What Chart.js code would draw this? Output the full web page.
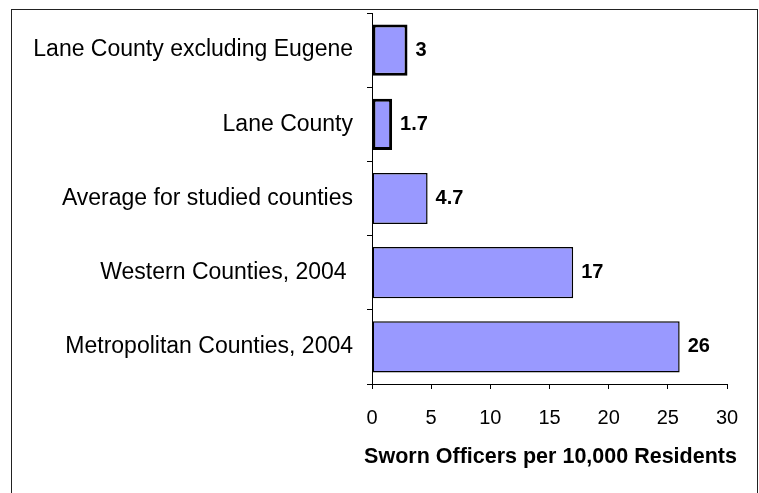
<!DOCTYPE html>
<html>
<head>
<meta charset="utf-8">
<script src="https://cdn.jsdelivr.net/npm/chart.js@4/dist/chart.umd.min.js"></script>
<style>
  body { margin: 0; background: #fff; }
  canvas { display: block; }
</style>
</head>
<body>
<canvas id="myChart" width="759" height="493"></canvas>
<script>
// categories, top to bottom
var categories = [
  "Lane County excluding Eugene",
  "Lane County",
  "Average for studied counties",
  "Western Counties, 2004 ",
  "Metropolitan Counties, 2004"
];
// sworn officers per 10,000 residents
var officers = [3, 1.7, 4.7, 17, 26];
// labels printed next to the bars
var officerLabels = ["3", "1.7", "4.7", "17", "26"];
// x axis
var xMin = 0;
var xMax = 30;
var xStep = 5;
var xTitle = "Sworn Officers per 10,000 Residents";

// frame around the whole chart
var framePlugin = {
  id: "frame",
  beforeDraw: function(chart) {
    var ctx = chart.ctx;
    ctx.save();
    ctx.fillStyle = "#fff";
    ctx.fillRect(0, 0, chart.width, chart.height);
    ctx.strokeStyle = "#222";
    ctx.lineWidth = 1;
    ctx.strokeRect(11.5, 9.5, 746, 500);
    ctx.restore();
  }
};

// value labels at the end of each bar + x axis title
// (the title is wider than the plot, chart.js would squeeze it)
var labelPlugin = {
  id: "valueLabels",
  afterDatasetsDraw: function(chart) {
    var ctx = chart.ctx;
    var meta = chart.getDatasetMeta(0);
    ctx.save();
    ctx.font = "bold 20px Arial, 'Liberation Sans', sans-serif";
    ctx.fillStyle = "#000";
    ctx.textAlign = "left";
    ctx.textBaseline = "middle";
    for (var i = 0; i < meta.data.length; i++) {
      var bar = meta.data[i];
      ctx.fillText(officerLabels[i], bar.x + 8, bar.y);
    }
    var area = chart.chartArea;
    ctx.font = "bold 21.5px Arial, 'Liberation Sans', sans-serif";
    ctx.textAlign = "center";
    ctx.fillText(xTitle, (area.left + area.right) / 2 + 1, chart.scales.x.bottom - 36);
    ctx.restore();
  }
};

var ctx = document.getElementById("myChart");
var myChart = new Chart(ctx, {
  type: "bar",
  data: {
    labels: categories,
    datasets: [{
      data: officers,
      backgroundColor: "#9999ff",
      borderColor: "#000",
      borderWidth: [3, 3, 1.5, 1.5, 1.5],
      borderSkipped: false,
      barPercentage: 0.69,
      categoryPercentage: 1
    }]
  },
  options: {
    indexAxis: "y",
    responsive: false,
    animation: false,
    layout: {
      padding: { left: 12, top: 13, right: 32, bottom: 0 }
    },
    plugins: {
      legend: { display: false },
      tooltip: { enabled: false }
    },
    scales: {
      x: {
        min: xMin,
        max: xMax,
        ticks: {
          stepSize: xStep,
          color: "#000",
          padding: 17,
          font: { family: "Arial, 'Liberation Sans', sans-serif", size: 20 }
        },
        grid: {
          drawOnChartArea: false,
          tickLength: 5,
          color: "#000"
        },
        border: { color: "#000" },
        afterFit: function(scale) {
          scale.height = 109;
        }
      },
      y: {
        ticks: {
          color: "#000",
          padding: 14,
          font: { family: "Arial, 'Liberation Sans', sans-serif", size: 23 }
        },
        grid: {
          offset: true,
          drawOnChartArea: false,
          tickLength: 5,
          color: "#000"
        },
        border: { color: "#000" },
        afterFit: function(scale) {
          scale.width = 360;
          // top/bottom come from the layout padding and the x axis only
          scale.paddingTop = 0;
          scale.paddingBottom = 0;
        }
      }
    }
  },
  plugins: [framePlugin, labelPlugin]
});
</script>
</body>
</html>
